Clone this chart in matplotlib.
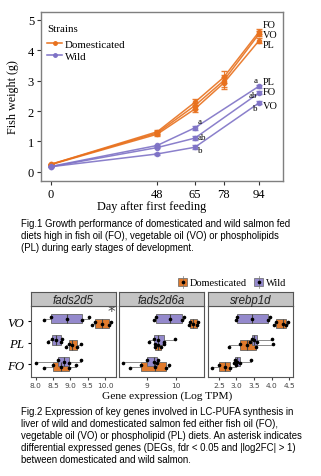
import numpy as np
import matplotlib
matplotlib.use("Agg")
import matplotlib.pyplot as plt
from matplotlib.patches import Rectangle
from matplotlib.lines import Line2D

W, H = 321, 477
ORANGE = "#E8711E"
PURPLE = "#7E72C6"
BOX_OR = "#E07A2C"
BOX_PU = "#9489CC"
SERIF = "Liberation Serif"
SANS = "Liberation Sans"

# growth data (g)
days = [0, 48, 65, 78, 94]
wild_days = [0, 48, 65, 94]
dom_fo = [0.25, 1.32, 2.29, 3.11, 4.61]
dom_vo = [0.25, 1.28, 2.18, 3.00, 4.54]
dom_pl = [0.24, 1.24, 2.07, 2.92, 4.32]
dom_err = [0.02, 0.06, 0.10, 0.20, 0.08]
wild_pl = [0.18, 0.87, 1.45, 2.82]
wild_fo = [0.17, 0.80, 1.11, 2.60]
wild_vo = [0.17, 0.59, 0.81, 2.27]
wild_err = [0.02, 0.03, 0.07, 0.05]
wild_letters_65 = ["a", "ab", "b"]
wild_letters_94 = ["a", "ab", "b"]

# gene expression (log TPM), per diet
genes = ["fads2d5", "fads2d6a", "srebp1d"]
diets = ["FO", "PL", "VO"]
expr_dom = {
    "fads2d5": {"FO": [8.25, 8.5, 8.72, 8.95, 9.15],
                "PL": [8.88, 8.95, 9.05, 9.18, 9.3],
                "VO": [9.62, 9.7, 9.92, 10.12, 10.18]},
    "fads2d6a": {"FO": [8.43, 8.8, 9.3, 9.65, 9.78],
                 "PL": [9.27, 9.3, 9.38, 9.5, 9.6],
                 "VO": [10.45, 10.5, 10.6, 10.72, 10.78]},
    "srebp1d": {"FO": [2.3, 2.5, 2.68, 2.82, 3.0],
                "PL": [2.8, 3.1, 3.3, 3.55, 4.05],
                "VO": [4.08, 4.12, 4.34, 4.42, 4.46]},
}
expr_wild = {
    "fads2d5": {"FO": [8.0, 8.65, 8.82, 8.95, 9.3],
                "PL": [8.35, 8.48, 8.58, 8.72, 8.75],
                "VO": [8.25, 8.45, 8.9, 9.35, 9.55]},
    "fads2d6a": {"FO": [8.17, 9.0, 9.25, 9.35, 9.4],
                 "PL": [9.08, 9.25, 9.4, 9.6, 9.98],
                 "VO": [9.25, 9.32, 9.8, 10.22, 10.3]},
    "srebp1d": {"FO": [2.93, 2.97, 3.02, 3.1, 3.4],
                "PL": [3.38, 3.45, 3.5, 3.58, 4.0],
                "VO": [2.98, 3.02, 3.45, 3.9, 3.95]},
}
xlims = {"fads2d5": (7.864, 10.317), "fads2d6a": (8.045, 10.976), "srebp1d": (2.186, 4.614)}
xticks = {"fads2d5": [8.0, 8.5, 9.0, 9.5, 10.0], "fads2d6a": [9, 10],
          "srebp1d": [2.5, 3.0, 3.5, 4.0, 4.5]}
xticklabels = {"fads2d5": ["8.0", "8.5", "9.0", "9.5", "10.0"], "fads2d6a": ["9", "10"],
               "srebp1d": ["2.5", "3.0", "3.5", "4.0", "4.5"]}
deg_marks = [("fads2d5", "VO")]

fig = plt.figure(figsize=(W / 100, H / 100), dpi=100)


def px_axes(x0, y0, x1, y1):
    return fig.add_axes([x0 / W, 1 - y1 / H, (x1 - x0) / W, (y1 - y0) / H])


# ---- Fig.1 growth curves
ax = px_axes(41, 13, 283, 182)
for vals in (dom_pl, dom_vo, dom_fo):
    ax.errorbar(days, vals, yerr=dom_err, color=ORANGE, lw=1.1, marker="o", ms=3,
                capsize=2, elinewidth=0.8, alpha=0.9)
for vals in (wild_vo, wild_fo, wild_pl):
    ax.errorbar(wild_days, vals, yerr=wild_err, color=PURPLE, lw=1.1, marker="o", ms=3,
                capsize=2, elinewidth=0.8, alpha=0.9)

# diet labels at the last time point
for lab, v in zip(["FO", "VO", "PL"], [4.86, 4.53, 4.2]):
    ax.text(95.8, v, lab, fontsize=7.3, family=SERIF, va="center", ha="left")
for lab, v in zip(["PL", "FO", "VO"], [2.96, 2.63, 2.2]):
    ax.text(95.8, v, lab, fontsize=7.5, family=SERIF, va="center", ha="left")
for lab, v in zip(wild_letters_65, [1.68, 1.16, 0.72]):
    ax.text(66.2, v, lab, fontsize=6.5, family=SERIF, va="center", ha="left")
for lab, v in zip(wild_letters_94, [3.03, 2.53, 2.1]):
    ax.text(93.3, v, lab, fontsize=6.5, family=SERIF, va="center", ha="right")

ax.set_xlim(-4.5, 104.8)
ax.set_ylim(-0.3, 5.26)
ax.set_xticks(days)
ax.set_yticks(range(6))
ax.tick_params(labelsize=9, length=3, color="#333333", width=0.8, pad=2)
for t in ax.get_xticklabels() + ax.get_yticklabels():
    t.set_family(SERIF)
for s in ax.spines.values():
    s.set_color("#7F7F7F")
    s.set_linewidth(1.0)
ax.set_ylabel("Fish weight (g)", fontsize=8.7, family=SERIF, labelpad=6)
fig.text(152 / W, 1 - 207 / H, "Day after first feeding", fontsize=8.8, family=SERIF,
         ha="center", va="center")

# legend: title as plain text, keys below it
fig.text(47 / W, 1 - 30 / H, "Strains", fontsize=7.8, family=SERIF, ha="left", va="center")
handles = [Line2D([], [], color=ORANGE, marker="o", ms=2.5, lw=1.1),
           Line2D([], [], color=PURPLE, marker="o", ms=2.5, lw=1.1)]
ax.legend(handles, ["Domesticated", "Wild"], loc="upper left",
          bbox_to_anchor=(6 / 242, 1 - 27 / 169), frameon=False,
          prop={"family": SERIF, "size": 7.9}, handlelength=1.4,
          handletextpad=0.25, borderaxespad=0, borderpad=0, labelspacing=0.25)

cap1 = ("Fig.1 Growth performance of domesticated and wild salmon fed\n"
        "diets high in fish oil (FO), vegetable oil (VO) or phospholipids\n"
        "(PL) during early stages of development.")
fig.text(21 / W, 1 - 219 / H, cap1, fontsize=6.9, family=SANS, ha="left", va="top",
         linespacing=1.25)

# ---- Fig.2 boxplots
panels = [(31, 116), (119, 204), (208, 293)]
offs = np.array([-1, 1, 0, -1, 1]) * 0.07
for gene, (x0, x1) in zip(genes, panels):
    a = px_axes(x0, 307, x1, 378)
    strip = px_axes(x0, 293, x1, 307)
    strip.set_xticks([])
    strip.set_yticks([])
    strip.set_facecolor("#C4C4C4")
    for s in strip.spines.values():
        s.set_color("#555555")
        s.set_linewidth(0.8)
    strip.text(0.5, 0.45, gene, fontsize=8.3, style="italic", family=SANS,
               ha="center", va="center", transform=strip.transAxes, color="#222222")
    for data, col, dy in ((expr_dom, BOX_OR, -0.115), (expr_wild, BOX_PU, 0.115)):
        vals = [data[gene][d] for d in diets]
        pos = [i + 1 + dy for i in range(3)]
        a.boxplot(vals, positions=pos, orientation="horizontal", widths=0.44,
                  patch_artist=True, showfliers=False, whis=(0, 100),
                  boxprops=dict(facecolor=col, edgecolor="#666666", lw=0.6),
                  medianprops=dict(color="#444444", lw=0.8),
                  whiskerprops=dict(color="#777777", lw=0.6),
                  capprops=dict(lw=0))
        for p, v in zip(pos, vals):
            a.plot(v, p + offs, "o", color="black", ms=1.6, zorder=5)
    for g, d in deg_marks:
        if g == gene:
            a.text(max(expr_dom[g][d]), diets.index(d) + 1 + 0.45, "*", fontsize=11,
                   color="#444444", ha="center", va="center")
    a.set_xlim(*xlims[gene])
    a.set_ylim(0.4, 3.7)
    a.set_xticks(xticks[gene])
    a.set_xticklabels(xticklabels[gene])
    a.tick_params(axis="x", labelsize=5.3, length=2, pad=1.5, colors="#444444")
    if gene == genes[0]:
        a.set_yticks([1, 2, 3])
        a.set_yticklabels(diets, fontsize=9.3, family=SERIF, style="italic")
        a.tick_params(axis="y", length=2, pad=3)
    else:
        a.set_yticks([])
    for s in a.spines.values():
        s.set_color("#555555")
        s.set_linewidth(0.8)

fig.text(167 / W, 1 - 396 / H, "Gene expression (Log TPM)", fontsize=8.2, family=SERIF,
         ha="center", va="center")

# legend for the boxplots
lx, ly = 178, 283
for lab, col, xx in (("Domesticated", BOX_OR, lx), ("Wild", BOX_PU, lx + 76)):
    fig.patches.append(Rectangle((xx / W, 1 - (ly + 4) / H), 9 / W, 8 / H,
                                 transform=fig.transFigure, facecolor=col,
                                 edgecolor="#666666", lw=0.5))
    fig.lines.append(Line2D([(xx + 4.5) / W] * 2, [1 - (ly + 6) / H, 1 - (ly - 6) / H],
                            transform=fig.transFigure, color="#777777", lw=0.5))
    fig.lines.append(Line2D([(xx + 4.5) / W], [1 - ly / H], transform=fig.transFigure,
                            marker="o", ms=1.6, color="black"))
    fig.text((xx + 12) / W, 1 - ly / H, lab, fontsize=7.5, family=SERIF,
             ha="left", va="center")

cap2 = ("Fig.2 Expression of key genes involved in LC-PUFA synthesis in\n"
        "liver of wild and domesticated salmon fed either fish oil (FO),\n"
        "vegetable oil (VO) or phospholipid (PL) diets. An asterisk indicates\n"
        "differential expressed genes (DEGs, fdr < 0.05 and |log2FC| > 1)\n"
        "between domesticated and wild salmon.")
fig.text(21 / W, 1 - 407 / H, cap2, fontsize=6.9, family=SANS, ha="left", va="top",
         linespacing=1.25)

fig.savefig("out.png", dpi=100)
